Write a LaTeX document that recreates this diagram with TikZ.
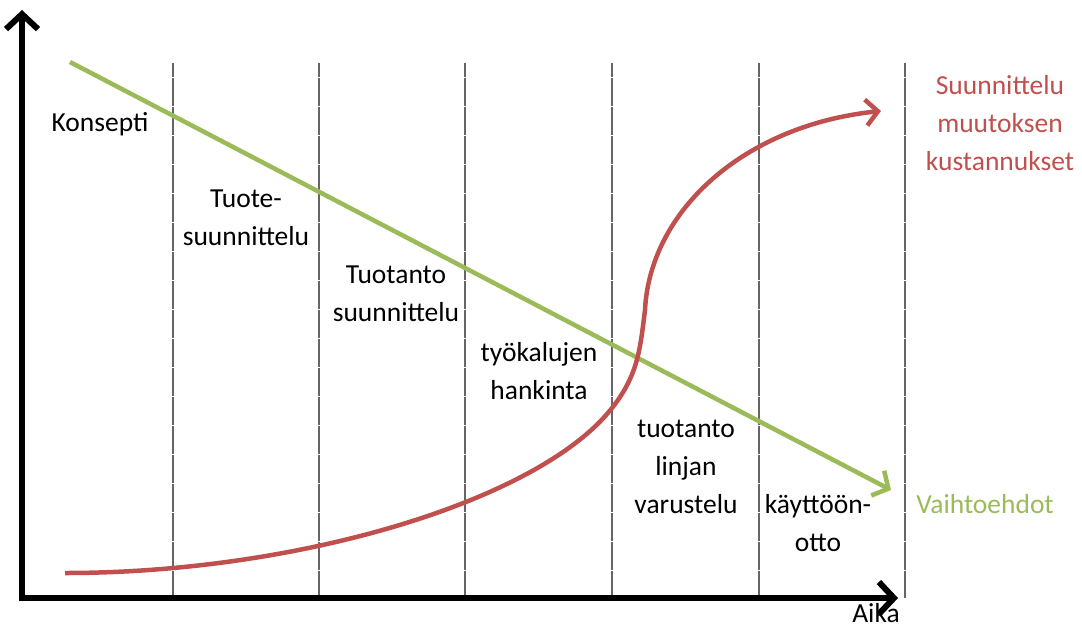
\documentclass[tikz,border=0pt]{standalone}
\usepackage{fontspec}
\setmainfont{Carlito}
\usetikzlibrary{arrows.meta}
\definecolor{cgreen}{RGB}{155,187,89}
\definecolor{cred}{RGB}{192,80,77}
\begin{document}
\begin{tikzpicture}[x=1pt,y=-1pt,
  lbl/.style={align=center,font=\fontsize{27.5}{38}\selectfont,inner sep=0pt},
  axis/.style={line width=6.5pt,-{Straight Barb[length=15pt,width=32pt,line width=6pt]}},
  sep/.style={line width=1.5pt,draw=black!60,dash pattern=on 14pt off 0.5pt},
  curve/.style={line width=4.5pt,cred,-{Straight Barb[length=12pt,width=26pt,line width=4.5pt]}},
  gline/.style={line width=4.5pt,cgreen,-{Straight Barb[length=12pt,width=28pt,line width=4.5pt]}}]
\useasboundingbox (0,0) rectangle (1082,630);
% separators
\foreach \x [count=\i] in {173,319,465,612,759,905}{
  \coordinate (s\i t) at (\x,63);
  \coordinate (s\i b) at (\x,598);
  \draw[sep] (s\i t) -- (s\i b);
}
% axes
\coordinate (origin) at (22,598);
\coordinate (ytop) at (22,10);
\coordinate (xend) at (898,598);
\draw[axis] ([yshift=3.25pt]origin) -- (ytop);
\draw[axis] ([xshift=-3.25pt]origin) -- (xend);
% green line
\coordinate (g0) at (70,62);
\coordinate (g1) at (891,490);
\draw[gline] (g0) -- (g1);
% red curve
\coordinate (r0) at (65,573);
\coordinate (r1) at (612,408);
\coordinate (r2) at (645,310);
\coordinate (r3) at (881,111);
\draw[curve] (r0) .. controls (300,573) and (540,500) .. (r1)
  .. controls (638,375) and (640,350) .. (r2)
  .. controls (650,210) and (745,125) .. (r3);
% labels
\node[lbl] (konsepti) at (100,124) {Konsepti};
\node[lbl] (tuote) at (246,218) {Tuote-\\suunnittelu};
\node[lbl] (tuotanto) at (396,294) {Tuotanto\\suunnittelu};
\node[lbl] (tyokalu) at (539,371) {työkalujen\\hankinta};
\node[lbl] (linja) at (686,467) {tuotanto\\linjan\\varustelu};
\node[lbl] (kaytto) at (818,523) {käyttöön-\\otto};
\node[lbl,text=cgreen] (vaiht) at (985,504) {Vaihtoehdot};
\node[lbl,text=cred] (kust) at (1000,123) {Suunnittelu\\muutoksen\\kustannukset};
\node[lbl] (aika) at (876,613) {Aika};
\end{tikzpicture}
\end{document}
